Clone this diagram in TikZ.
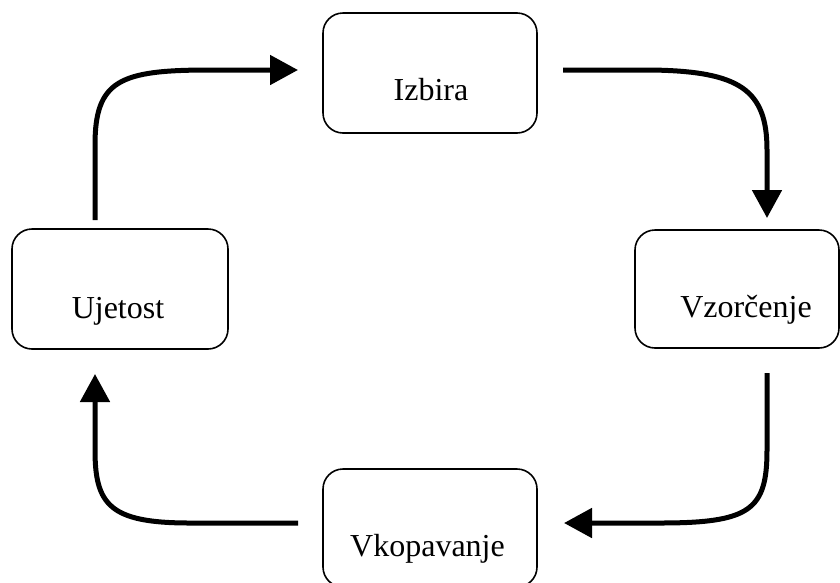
\documentclass[tikz,border=0pt]{standalone}
\usepackage{fontspec}
\setmainfont{Liberation Serif}
\usetikzlibrary{arrows.meta}
\begin{document}
\begin{tikzpicture}[x=1pt,y=-1pt,
  box/.style={draw=black, line width=1.6pt, rounded corners=20pt, inner sep=0pt},
  lbl/.style={anchor=base, inner sep=0pt, font=\fontsize{32}{38}\selectfont},
  flow/.style={line width=5pt, -{Triangle[length=28pt,width=29pt]}}]
\useasboundingbox (0,0) rectangle (840,582);
\node[box, minimum width=214pt, minimum height=120pt] (iz) at (430,73) {};
\node[box, minimum width=216pt, minimum height=120pt] (uj) at (120,289) {};
\node[box, minimum width=204pt, minimum height=118pt] (vz) at (737,289) {};
\node[box, minimum width=214pt, minimum height=118pt] (vk) at (430,528) {};
\node[lbl] (tiz) at (431,100) {Izbira};
\node[lbl] (tuj) at (118,318) {Ujetost};
\node[lbl] (tvz) at (746,317) {Vzorčenje};
\node[lbl] (tvk) at (427.5,556) {Vkopavanje};
\coordinate (a1s) at (95,220);
\coordinate (a1e) at (298,70);
\coordinate (a2s) at (563,70);
\coordinate (a2e) at (767,218);
\coordinate (a3s) at (767,373);
\coordinate (a3e) at (564,523);
\coordinate (a4s) at (298,523);
\coordinate (a4e) at (95,374);
\draw[flow] (a1s) -- (95,145) .. controls (95,80) and (120,70) .. (210,70) -- (a1e);
\draw[flow] (a2s) -- (650,70) .. controls (740,71) and (767,90) .. (767,150) -- (a2e);
\draw[flow] (a3s) -- (767,450) .. controls (767,510) and (750,523) .. (660,523) -- (a3e);
\draw[flow] (a4s) -- (190,523) .. controls (110,523) and (95,505) .. (95,450) -- (a4e);
\end{tikzpicture}
\end{document}
